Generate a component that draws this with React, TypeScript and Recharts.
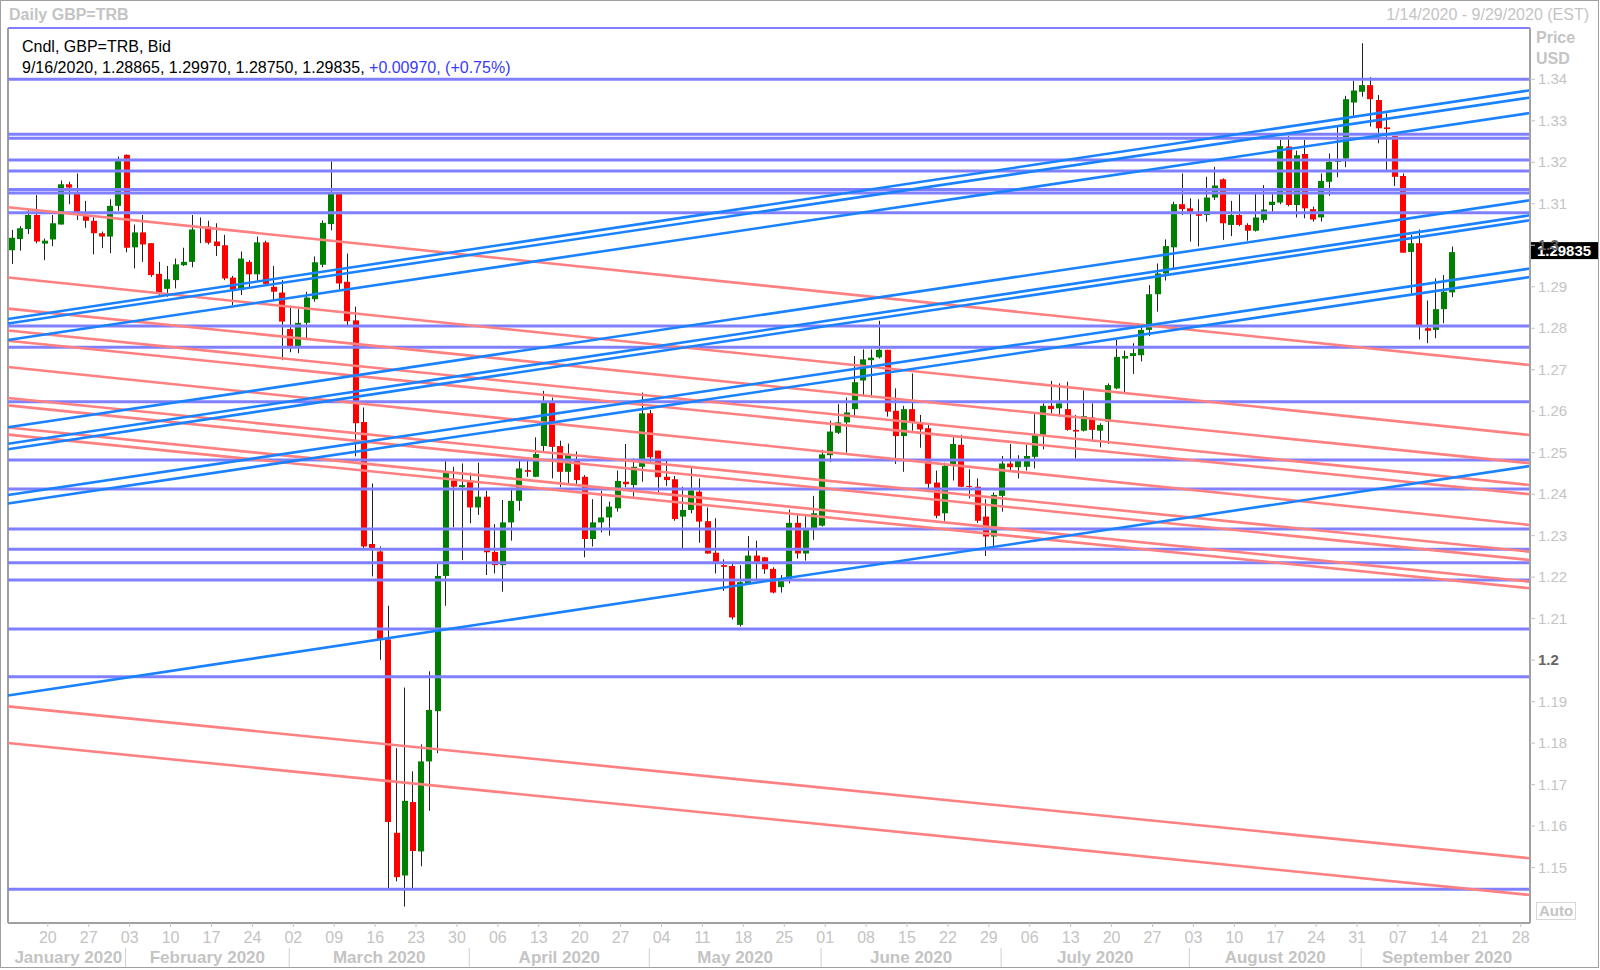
import { ComposedChart, Bar, XAxis, YAxis, ReferenceLine } from "recharts";

// Daily GBP=TRB candles, 1/14/2020 .. 9/16/2020 (index = trading day)
const opens = [
  1.2988, 1.3015, 1.3039, 1.3073, 1.3004, 1.3014, 1.3050, 1.3147, 1.3125, 1.3073,
  1.3059, 1.3029, 1.3021, 1.3095, 1.3218, 1.2995, 1.3031, 1.3005, 1.2931, 1.2895,
  1.2916, 1.2952, 1.2960, 1.3045, 1.3045, 1.3009, 1.3000, 1.2922, 1.2892, 1.2960,
  1.2930, 1.3007, 1.2900, 1.2886, 1.2798, 1.2757, 1.2813, 1.2870, 1.2953, 1.3051,
  1.3127, 1.2912, 1.2819, 1.2574, 1.2280, 1.2262, 1.2050, 1.1584, 1.1481, 1.1658,
  1.1539, 1.1756, 1.1877, 1.2203, 1.2433, 1.2417, 1.2430, 1.2368, 1.2394, 1.2261,
  1.2229, 1.2332, 1.2384, 1.2458, 1.2442, 1.2516, 1.2621, 1.2516, 1.2454, 1.2481,
  1.2442, 1.2292, 1.2332, 1.2344, 1.2366, 1.2430, 1.2422, 1.2466, 1.2595, 1.2505,
  1.2442, 1.2436, 1.2346, 1.2362, 1.2406, 1.2335, 1.2259, 1.2229, 1.2227, 1.2085,
  1.2185, 1.2252, 1.2248, 1.2220, 1.2176, 1.2195, 1.2331, 1.2257, 1.2315, 1.2324,
  1.2494, 1.2548, 1.2573, 1.2605, 1.2674, 1.2723, 1.2730, 1.2748, 1.2601, 1.2540,
  1.2605, 1.2572, 1.2559, 1.2428, 1.2354, 1.2468, 1.2519, 1.2420, 1.2418, 1.2346,
  1.2298, 1.2396, 1.2474, 1.2465, 1.2466, 1.2490, 1.2543, 1.2613, 1.2607, 1.2605,
  1.2555, 1.2553, 1.2585, 1.2553, 1.2575, 1.2655, 1.2727, 1.2733, 1.2735, 1.2796,
  1.2882, 1.2932, 1.2995, 1.3099, 1.3089, 1.3075, 1.3073, 1.3115, 1.3159, 1.3049,
  1.3073, 1.3049, 1.3035, 1.3061, 1.3097, 1.3103, 1.3238, 1.3097, 1.3220, 1.3087,
  1.3067, 1.3153, 1.3201, 1.3209, 1.3344, 1.3370, 1.3386, 1.3350, 1.3284, 1.3263,
  1.3167, 1.2984, 1.3005, 1.2800, 1.2796, 1.2846, 1.28865,
];
const highs = [
  1.3037, 1.3046, 1.3085, 1.3121, 1.3016, 1.3073, 1.3156, 1.3153, 1.3173, 1.3107,
  1.3067, 1.3033, 1.3111, 1.3214, 1.3219, 1.3050, 1.3073, 1.3005, 1.2960, 1.2950,
  1.2968, 1.2994, 1.3073, 1.3067, 1.3059, 1.3053, 1.3025, 1.2926, 1.2985, 1.2964,
  1.3021, 1.3011, 1.2950, 1.2916, 1.2854, 1.2846, 1.2888, 1.2973, 1.3060, 1.3202,
  1.3127, 1.2980, 1.2852, 1.2609, 1.2426, 1.2274, 1.2131, 1.1788, 1.1934, 1.1732,
  1.1797, 1.1973, 1.2233, 1.2482, 1.2466, 1.2474, 1.2452, 1.2476, 1.2408, 1.2328,
  1.2386, 1.2414, 1.2481, 1.2489, 1.2537, 1.2649, 1.2633, 1.2529, 1.2522, 1.2503,
  1.2446, 1.2388, 1.2408, 1.2382, 1.2457, 1.2521, 1.2486, 1.2645, 1.2603, 1.2505,
  1.2481, 1.2444, 1.2418, 1.2468, 1.2438, 1.2368, 1.2342, 1.2243, 1.2237, 1.2229,
  1.2299, 1.2288, 1.2249, 1.2224, 1.2205, 1.2363, 1.2350, 1.2347, 1.2396, 1.2507,
  1.2577, 1.2617, 1.2633, 1.2733, 1.2749, 1.2749, 1.2818, 1.2748, 1.2655, 1.2613,
  1.2691, 1.2591, 1.2567, 1.2457, 1.2476, 1.2537, 1.2543, 1.2460, 1.2438, 1.2388,
  1.2404, 1.2492, 1.2521, 1.2494, 1.2519, 1.2593, 1.2619, 1.2673, 1.2667, 1.2671,
  1.2591, 1.2650, 1.2619, 1.2571, 1.2667, 1.2772, 1.2746, 1.2764, 1.2805, 1.2904,
  1.2956, 1.3014, 1.3105, 1.3173, 1.3113, 1.3111, 1.3165, 1.3189, 1.3161, 1.3107,
  1.3124, 1.3053, 1.3124, 1.3145, 1.3124, 1.3254, 1.3263, 1.3228, 1.3254, 1.3093,
  1.3173, 1.3221, 1.3286, 1.3360, 1.3397, 1.3487, 1.3405, 1.3362, 1.3318, 1.3263,
  1.3173, 1.3025, 1.3038, 1.2867, 1.2920, 1.2928, 1.2997,
];
const lows = [
  1.2955, 1.2987, 1.3027, 1.3005, 1.2964, 1.2998, 1.3050, 1.3099, 1.3061, 1.3042,
  1.2978, 1.2993, 1.2981, 1.3083, 1.2983, 1.2944, 1.2960, 1.2924, 1.2880, 1.2876,
  1.2896, 1.2950, 1.2947, 1.3005, 1.3002, 1.2974, 1.2916, 1.2856, 1.2880, 1.2896,
  1.2914, 1.2904, 1.2866, 1.2723, 1.2742, 1.2740, 1.2775, 1.2864, 1.2947, 1.3036,
  1.2894, 1.2807, 1.2491, 1.2268, 1.2202, 1.2001, 1.1447, 1.1467, 1.1406, 1.1447,
  1.1503, 1.1637, 1.1776, 1.2131, 1.2320, 1.2241, 1.2330, 1.2350, 1.2205, 1.2209,
  1.2165, 1.2288, 1.2360, 1.2442, 1.2441, 1.2502, 1.2438, 1.2417, 1.2422, 1.2422,
  1.2248, 1.2274, 1.2308, 1.2300, 1.2358, 1.2417, 1.2394, 1.2430, 1.2474, 1.2404,
  1.2420, 1.2336, 1.2268, 1.2354, 1.2283, 1.2256, 1.2209, 1.2167, 1.2098, 1.2081,
  1.2184, 1.2192, 1.2208, 1.2161, 1.2163, 1.2185, 1.2245, 1.2240, 1.2290, 1.2322,
  1.2478, 1.2545, 1.2500, 1.2585, 1.2635, 1.2633, 1.2727, 1.2587, 1.2473, 1.2454,
  1.2553, 1.2512, 1.2409, 1.2342, 1.2336, 1.2433, 1.2417, 1.2390, 1.2331, 1.2251,
  1.2272, 1.2358, 1.2457, 1.2438, 1.2457, 1.2462, 1.2508, 1.2595, 1.2587, 1.2553,
  1.2486, 1.2551, 1.2527, 1.2513, 1.2521, 1.2653, 1.2645, 1.2690, 1.2720, 1.2781,
  1.2840, 1.2915, 1.2944, 1.3073, 1.3009, 1.2997, 1.3057, 1.3109, 1.3013, 1.3022,
  1.3046, 1.3011, 1.3033, 1.3054, 1.3081, 1.3099, 1.3094, 1.3067, 1.3065, 1.3057,
  1.3057, 1.3119, 1.3164, 1.3188, 1.3312, 1.3358, 1.3286, 1.3246, 1.3180, 1.3143,
  1.2982, 1.2884, 1.2773, 1.2764, 1.2776, 1.2812, 1.2875,
];
const closes = [
  1.3018, 1.3041, 1.3073, 1.3009, 1.3011, 1.3053, 1.3147, 1.3139, 1.3081, 1.3059,
  1.3029, 1.3021, 1.3095, 1.3208, 1.2994, 1.3031, 1.3002, 1.2928, 1.2884, 1.2918,
  1.2954, 1.2960, 1.3038, 1.3046, 1.3006, 1.2998, 1.2920, 1.2892, 1.2968, 1.2930,
  1.3007, 1.2907, 1.2888, 1.2816, 1.2757, 1.2813, 1.2874, 1.2959, 1.3054, 1.3127,
  1.2908, 1.2817, 1.2571, 1.2274, 1.2270, 1.2050, 1.1610, 1.1477, 1.1661, 1.1540,
  1.1756, 1.1880, 1.2203, 1.2453, 1.2418, 1.2422, 1.2368, 1.2394, 1.2260, 1.2229,
  1.2332, 1.2384, 1.2462, 1.2454, 1.2497, 1.2621, 1.2514, 1.2454, 1.2497, 1.2434,
  1.2292, 1.2332, 1.2344, 1.2370, 1.2432, 1.2424, 1.2466, 1.2595, 1.2489, 1.2441,
  1.2434, 1.2340, 1.2362, 1.2409, 1.2334, 1.2257, 1.2237, 1.2225, 1.2103, 1.2188,
  1.2252, 1.2236, 1.2219, 1.2163, 1.2193, 1.2331, 1.2257, 1.2315, 1.2354, 1.2496,
  1.2551, 1.2573, 1.2597, 1.2670, 1.2725, 1.2729, 1.2748, 1.2599, 1.2540, 1.2605,
  1.2572, 1.2556, 1.2425, 1.2348, 1.2468, 1.2521, 1.2418, 1.2418, 1.2336, 1.2298,
  1.2398, 1.2474, 1.2465, 1.2480, 1.2492, 1.2543, 1.2613, 1.2605, 1.2619, 1.2555,
  1.2551, 1.2588, 1.2555, 1.2567, 1.2663, 1.2731, 1.2733, 1.2740, 1.2796, 1.2882,
  1.2932, 1.2998, 1.3099, 1.3087, 1.3081, 1.3071, 1.3115, 1.3144, 1.3053, 1.3073,
  1.3049, 1.3035, 1.3067, 1.3086, 1.3105, 1.3239, 1.3097, 1.3217, 1.3089, 1.3062,
  1.3155, 1.3201, 1.3205, 1.3352, 1.3373, 1.3386, 1.3352, 1.3282, 1.3280, 1.3165,
  1.2982, 1.3005, 1.2805, 1.2794, 1.2846, 1.2888, 1.29835,
];

// drawn support / resistance levels
const levels = [
  1.34, 1.32674, 1.32578, 1.32055, 1.3179, 1.31344, 1.3126, 1.30785, 1.28054, 1.27541,
  1.26229, 1.24825, 1.24125, 1.23161, 1.22672, 1.22349, 1.21932, 1.20751, 1.19601, 1.14477,
];
// trend lines: [price at left edge, price at right edge]
const upTrends = [
  [1.28223, 1.33735], [1.28114, 1.33559], [1.27717, 1.33188],
  [1.25612, 1.31084], [1.25217, 1.30722], [1.25085, 1.30602],
  [1.23981, 1.2944], [1.23776, 1.29235], [1.19148, 1.2468],
];
const downTrends = [
  [1.30917, 1.27114], [1.29221, 1.25427], [1.28473, 1.24745], [1.27946, 1.24222],
  [1.27697, 1.23998], [1.27066, 1.23258], [1.26319, 1.22614], [1.2614, 1.22414],
  [1.25608, 1.21891], [1.25436, 1.21732], [1.18885, 1.15224], [1.18003, 1.1434],
];

const priceTicks = [
  1.15, 1.16, 1.17, 1.18, 1.19, 1.2, 1.21, 1.22, 1.23, 1.24,
  1.25, 1.26, 1.27, 1.28, 1.29, 1.3, 1.31, 1.32, 1.33, 1.34,
];
const weekIdx = [4, 9, 14, 19, 24, 29, 34, 39, 44, 49, 54, 59, 64, 69, 74, 79, 84, 89, 94, 99,
  104, 109, 114, 119, 124, 129, 134, 139, 144, 149, 154, 159, 164, 169, 174, 179, 184];
const weekLabels = ["20", "27", "03", "10", "17", "24", "02", "09", "16", "23", "30", "06", "13",
  "20", "27", "04", "11", "18", "25", "01", "08", "15", "22", "29", "06", "13", "20", "27", "03",
  "10", "17", "24", "31", "07", "14", "21", "28"];
const monthNames = ["January 2020", "February 2020", "March 2020", "April 2020", "May 2020",
  "June 2020", "July 2020", "August 2020", "September 2020"];
const monthBounds = [-0.5, 13.5, 33.5, 55.5, 77.5, 98.5, 120.5, 143.5, 164.5, 185.5];

const candles = closes.map((close, i) => ({ i, open: opens[i], high: highs[i], low: lows[i], close }));

const X_DOMAIN = [-0.5, 185.5];
const Y_DOMAIN = [1.136649, 1.352364];

const LIGHT = "#c4c4c4";
const FONT = "'Liberation Sans', Arial, sans-serif";
const NARROW = "'Liberation Sans Narrow', 'Liberation Sans', Arial, sans-serif";

const dayLabelOf = new Map(weekIdx.map((v, k) => [v, weekLabels[k]]));
const monthMids = monthNames.map((_, k) => (monthBounds[k] + monthBounds[k + 1]) / 2);
const monthLabelOf = new Map(monthMids.map((v, k) => [v, monthNames[k]]));
const innerBounds = monthBounds.slice(1, -1);
const xTicks = Array.from(new Set([...weekIdx, ...innerBounds, ...monthMids])).sort((a, b) => a - b);

const Candle = (props: any) => {
  const { x, y, width, height, payload } = props;
  if (!payload || height == null) return null;
  const { open, close, high, low } = payload;
  const span = high - low || 1e-9;
  const py = (p: number) => y + ((high - p) / span) * height;
  const cx = Math.floor(x + width / 2) + 0.5;
  const top = py(Math.max(open, close));
  const bot = py(Math.min(open, close));
  const up = close >= open;
  return (
    <g>
      <line x1={cx} x2={cx} y1={y} y2={y + height} stroke="#222" strokeWidth={1} />
      <rect x={Math.round(x)} y={top} width={width} height={Math.max(1, bot - top)} fill={up ? "#008000" : "#ff0000"} />
    </g>
  );
};

// axis labels in the source sit a few pixels right of the day slot centre
const SHIFT = 3;

const XTick = (props: any) => {
  const { x, y, payload } = props;
  const v = payload.value;
  const day = dayLabelOf.get(v);
  const month = monthLabelOf.get(v);
  const isBound = innerBounds.includes(v);
  const tx = x + SHIFT;
  return (
    <g>
      {day && <line x1={tx} x2={tx} y1={y} y2={y + 4} stroke={LIGHT} />}
      {day && (
        <text x={tx} y={y + 20} textAnchor="middle" fill={LIGHT} fontSize={16} fontFamily={NARROW}>
          {day}
        </text>
      )}
      {isBound && <line x1={tx} x2={tx} y1={y + 25} y2={y + 44} stroke="#d0d0d0" />}
      {month && (
        <text x={tx} y={y + 40} textAnchor="middle" fill={LIGHT} fontSize={17} fontWeight="bold" fontFamily={FONT}>
          {month}
        </text>
      )}
    </g>
  );
};

const YTick = (props: any) => {
  const { x, y, payload } = props;
  const v = payload.value;
  const major = Math.abs(v * 10 - Math.round(v * 10)) < 1e-6;
  return (
    <text x={x} y={y} dy={5} textAnchor="start" fill={major ? "#666" : LIGHT} fontWeight={major ? "bold" : "normal"} fontSize={15} fontFamily={FONT}>
      {parseFloat(v.toFixed(2)).toString()}
    </text>
  );
};

const PriceTag = (props: any) => {
  const vb = props.viewBox || {};
  const left = vb.x + vb.width + 1;
  return (
    <g>
      <rect x={left} y={vb.y - 10} width={67} height={17} fill="#000" />
      <text x={left + 33} y={vb.y + 4} textAnchor="middle" fill="#fff" fontWeight="bold" fontSize={15} fontFamily={FONT}>
        {closes[closes.length - 1].toFixed(5)}
      </text>
    </g>
  );
};

const abs = (left: number, top: number, extra: any = {}) => ({ position: "absolute" as const, left, top, lineHeight: "18px", whiteSpace: "nowrap" as const, ...extra });

export default function App() {
  const last = candles[candles.length - 1];
  return (
    <div style={{ position: "absolute", left: 0, top: 0, width: 1600, height: 970, background: "#fff", fontFamily: FONT }}>
      <ComposedChart width={1600} height={970} data={candles} margin={{ top: 28, right: 0, bottom: 0, left: 8 }}>
        <XAxis
          type="number"
          dataKey="i"
          domain={X_DOMAIN}
          ticks={xTicks}
          interval={0}
          tickSize={0}
          tickMargin={0}
          tickLine={false}
          axisLine={{ stroke: "#a0a0a0", strokeWidth: 2 }}
          height={47}
          tick={(p: any) => <XTick {...p} />}
          allowDataOverflow
        />
        <YAxis
          orientation="right"
          type="number"
          domain={Y_DOMAIN}
          ticks={priceTicks}
          interval={0}
          width={70}
          tickSize={5}
          tickMargin={3}
          tickLine={{ stroke: LIGHT }}
          axisLine={{ stroke: "#a0a0a0", strokeWidth: 2 }}
          tick={(p: any) => <YTick {...p} />}
          allowDataOverflow
        />
        <Bar dataKey={(d: any) => [d.low, d.high]} barSize={6} shape={(p: any) => <Candle {...p} />} isAnimationActive={false} />
        <ReferenceLine x={X_DOMAIN[0]} stroke="#a0a0a0" strokeWidth={2} ifOverflow="visible" />
        <ReferenceLine y={Y_DOMAIN[1]} stroke="#8080ff" strokeWidth={2} ifOverflow="visible" />
        {levels.map((p, k) => (
          <ReferenceLine key={"h" + k} y={p} stroke="#8080ff" strokeWidth={3} ifOverflow="visible" />
        ))}
        {downTrends.map(([a, b], k) => (
          <ReferenceLine
            key={"r" + k}
            segment={[{ x: X_DOMAIN[0], y: a }, { x: X_DOMAIN[1], y: b }]}
            stroke="#ff8080"
            strokeWidth={2.6}
            ifOverflow="visible"
          />
        ))}
        {upTrends.map(([a, b], k) => (
          <ReferenceLine
            key={"b" + k}
            segment={[{ x: X_DOMAIN[0], y: a }, { x: X_DOMAIN[1], y: b }]}
            stroke="#1a82ff"
            strokeWidth={2.6}
            ifOverflow="visible"
          />
        ))}
        <ReferenceLine y={last.close} stroke="none" ifOverflow="visible" label={(p: any) => <PriceTag {...p} />} />
      </ComposedChart>

      <div style={abs(9, 6, { fontSize: 16, fontWeight: "bold", color: LIGHT })}>Daily GBP=TRB</div>
      <div style={{ ...abs(0, 6, { fontSize: 16, color: LIGHT }), left: undefined, right: 11 }}>1/14/2020 - 9/29/2020 (EST)</div>
      <div style={abs(22, 38, { fontSize: 16, color: "#000" })}>Cndl, GBP=TRB, Bid</div>
      <div style={abs(22, 59, { fontSize: 16, color: "#000" })}>
        9/16/2020, {last.open.toFixed(5)}, {last.high.toFixed(5)}, {last.low.toFixed(5)}, {last.close.toFixed(5)},{" "}
        <span style={{ color: "#3a3aff" }}>+0.00970, (+0.75%)</span>
      </div>
      <div style={abs(1536, 29, { fontSize: 16, fontWeight: "bold", color: LIGHT })}>Price</div>
      <div style={abs(1536, 50, { fontSize: 16, fontWeight: "bold", color: LIGHT })}>USD</div>
      <div
        style={abs(1536, 902, {
          width: 40,
          height: 18,
          border: "1px solid #d8d8d8",
          boxSizing: "border-box",
          fontSize: 15,
          lineHeight: "16px",
          fontWeight: "bold",
          color: LIGHT,
          textAlign: "center",
        })}
      >
        Auto
      </div>
      <div style={{ position: "absolute", left: 0, top: 0, width: 1599, height: 968, border: "1px solid #a0a0a0", boxSizing: "border-box", pointerEvents: "none" }} />
    </div>
  );
}
